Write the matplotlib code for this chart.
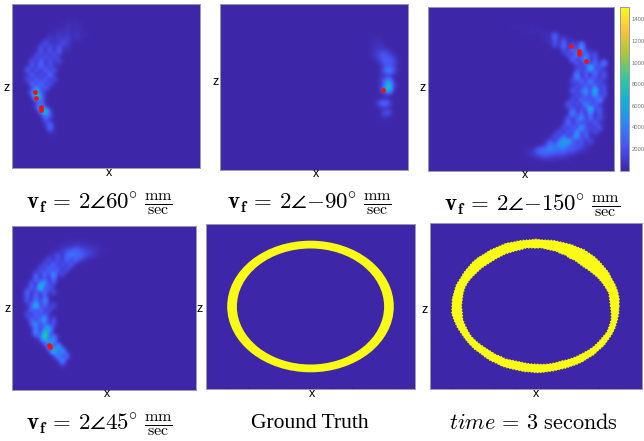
#
# plot.py
#   - Six reconstruction panels (x-z plane) with one shared colorbar.
#

import numpy as np
import matplotlib
matplotlib.use("Agg")
import matplotlib.pyplot as plt
from matplotlib.colors import LinearSegmentedColormap
from matplotlib.patches import Ellipse

HEAT_UNIT = 55
VMAX = 15200
N_COLS, N_ROWS = 42, 36

HEAT_A_FIRST_ROW = 3
HEAT_A_START = [12, 11, 9, 8, 7, 6, 5, 5, 4, 4, 3, 3, 3, 3, 4, 4, 4, 4, 5, 5, 6, 6, 7, 7, 8, 9]
HEAT_A_ROWS = [
    "222", "23232", "2324232", "324342423", "252535243", "27252742", "27372724", "37273823",
    "2737372", "7283727", "27392732", "8272837", "2827292", "7283827", "92937", "3b382",
    "9c72", "2e93", "382", "7b3", "9e5", "397", "72", "392", "82", "3",
]

HEAT_B_FIRST_ROW = 7
HEAT_B_START = [33, 33, 33, 33, 33, 34, 35, 35, 35, 35, 35, 35, 35, 35, 34, 35, 35, 35]
HEAT_B_ROWS = [
    "223", "2332", "23432", "245652", "2467652", "247763", "25752", "27a73", "2342",
    "37a4", "27d62", "39e5", "2452", "121", "27972", "232", "2672", "242",
]

HEAT_C_FIRST_ROW = 4
HEAT_C_START = [18, 21, 25, 26, 27, 29, 30, 31, 32, 33, 33, 32, 32, 32, 32, 32, 31, 31, 31, 31,
                30, 30, 29, 28, 27, 26, 24, 21, 22, 24]
HEAT_C_ROWS = [
    "2222222", "2232322", "2329232", "3272723", "2729272b", "27293b23", "372b2937", "2927b27",
    "3828292b", "372e372", "9282937", "3b272827", "7292b273", "37282937", "828b2e27", "37292b37",
    "2729382b2", "8272b2832", "38272e382", "2b3829272", "3727b29273", "2928272832", "27382c37282",
    "37283b38272", "272927b3822", "3729bb827272", "23698a9867642", "2347989878675432",
    "345676565432", "23333222",
]

HEAT_D_FIRST_ROW = 3
HEAT_D_START = [11, 10, 9, 8, 7, 6, 5, 4, 4, 3, 3, 3, 2, 2, 3, 3, 3, 3, 4, 4, 4, 5, 6, 7, 8, 9, 10, 11]
HEAT_D_ROWS = [
    "2222322", "23335443332", "2346787654322", "347289786543", "3727382853", "37292738",
    "272938272", "27392b37", "2927392", "2729b27", "382f282", "9272927", "3729282", "27392b3",
    "27e2827", "382927", "729382", "2829b27", "7b2927", "2939c3", "3b3e82", "37f3b3", "37b92",
    "3a2d3", "3e2c3", "3b29", "3b3", "52",
]

# Red peak cells (col, row) for each heat panel.
PEAKS_A_COL = [5.2, 5.3, 6.4, 6.4]
PEAKS_A_ROW = [19.4, 20.7, 22.5, 23.2]
PEAKS_B_COL = [36.5]
PEAKS_B_ROW = [18.6]
PEAKS_C_COL = [32.3, 34.0, 34.0, 35.8]
PEAKS_C_ROW = [8.7, 9.8, 10.4, 12.0]
PEAKS_D_COL = [8.5, 8.6]
PEAKS_D_ROW = [26.1, 26.6]

# Ground truth ring: semi axes of outer and inner edge.
TRUTH_OUTER = (83.3, 65.8)
TRUTH_INNER = (73.6, 58.0)

# Measured ring, radius per 5 degrees starting at the right, going counter-clockwise.
RING_ANGLES = list(range(0, 360, 5))
RING_OUTER = [83, 83.5, 83, 82, 80.5, 80, 78.5, 77.5, 76.5, 75, 74, 72, 71, 69.5, 68.5, 68,
              67, 66.5, 67, 66.5, 67, 67.5, 68, 69.5, 70, 71, 72.5, 73.5, 75.5, 77, 78, 79.5,
              80.5, 82.5, 83, 84, 84, 84.5, 83, 81.5, 79.5, 78, 76.5, 75, 73, 72, 71, 69.5,
              69, 68, 67, 66.5, 66.5, 66, 66.5, 66.5, 66.5, 67, 67.5, 68.5, 69.5, 71, 72.5, 73.5,
              75.5, 76.5, 78.5, 79.5, 81, 82, 82.5, 83]
RING_INNER = [74.5, 74, 74, 72, 70, 68, 65.5, 63.5, 61.5, 60.5, 60, 58.5, 59, 58, 58.5, 58,
              58, 58.5, 58, 58.5, 59, 58.5, 59, 59.5, 60.5, 61, 62, 63, 64.5, 66.5, 68, 70,
              72, 73.5, 74, 74, 74.5, 74, 74.5, 73.5, 72.5, 71.5, 69.5, 67.5, 65.5, 64, 63, 61.5,
              61, 59.5, 58.5, 58, 58, 58, 58, 58.5, 59, 59.5, 60, 60.5, 62, 63.5, 65, 66.5,
              68.5, 70.5, 72, 73.5, 75.5, 76, 76.5, 75.5]

# Colorbar
CBAR_TICKS = [2000, 4000, 6000, 8000, 10000, 12000, 14000]
PARULA = [(0.2422, 0.1504, 0.6603), (0.2810, 0.3228, 0.9579), (0.1786, 0.5289, 0.9682),
          (0.0689, 0.6948, 0.8394), (0.2161, 0.7843, 0.5923), (0.6720, 0.7793, 0.2227),
          (0.9970, 0.7659, 0.2199), (0.9769, 0.9839, 0.0805)]

# Text
TITLES = [
    r"$\mathbf{v_f}\,=\,2\angle 60\!^\circ\,\frac{\mathrm{mm}}{\mathrm{sec}}$",
    r"$\mathbf{v_f}\,=\,2\angle{-}90\!^\circ\,\frac{\mathrm{mm}}{\mathrm{sec}}$",
    r"$\mathbf{v_f}\,=\,2\angle{-}150\!^\circ\,\frac{\mathrm{mm}}{\mathrm{sec}}$",
    r"$\mathbf{v_f}\,=\,2\angle 45\!^\circ\,\frac{\mathrm{mm}}{\mathrm{sec}}$",
    "Ground Truth",
    r"$time\,=\,3\ \mathrm{seconds}$",
]
TITLE_SIZES = [16.5, 16.5, 16.5, 16.5, 15.5, 16]

# Layout in image pixels.
W, H = 644, 441
BOXES = [(12, 4, 199.5, 168), (219.7, 4, 408, 170), (427.7, 6.5, 614, 170.7),
         (12, 226, 196, 390), (205.7, 224, 415.3, 389), (430.3, 223.3, 641.7, 389)]
CBAR_BOX = (620, 6.5, 629.3, 170.7)
X_LABEL_POS = [(109, 173), (316, 174), (525, 175), (107, 394), (312, 394), (536, 394)]
Z_LABEL_POS = [(7, 88), (216, 82), (423, 88), (8, 309), (200, 309), (425, 310)]
TITLE_POS = [(99, 204), (309, 204), (532, 206), (99, 425), (310, 424), (533, 424)]


def px_axes(fig, box):
    x0, y0, x1, y1 = box
    return fig.add_axes([x0 / W, 1 - y1 / H, (x1 - x0) / W, (y1 - y0) / H])


def heat_grid(first_row, starts, rows):
    """
    Expand the hex rows into a full grid of values.
    """
    grid = np.zeros((N_ROWS, N_COLS))
    for i, (start, row) in enumerate(zip(starts, rows)):
        for j, ch in enumerate(row):
            grid[first_row + i, start + j] = int(ch, 16) ** 2 * HEAT_UNIT
    return grid


def style_axes(ax, x0, x1, y0, y1):
    ax.set_xticks(np.linspace(x0, x1, 11)[1:-1])
    ax.set_yticks(np.linspace(y0, y1, 11)[1:-1])
    ax.tick_params(direction="in", length=1.5, width=0.4, color="#2c2080",
                   labelbottom=False, labelleft=False)
    for s in ax.spines.values():
        s.set_color("#9a9aa8")
        s.set_linewidth(0.7)


def main():
    plt.rcParams["font.family"] = ["Liberation Serif", "DejaVu Serif"]
    plt.rcParams["mathtext.fontset"] = "cm"
    cmap = LinearSegmentedColormap.from_list("parula_like", PARULA)
    navy, yellow = PARULA[0], PARULA[-1]

    fig = plt.figure(figsize=(W / 100, H / 100), dpi=100)

    panels = [
        (HEAT_A_FIRST_ROW, HEAT_A_START, HEAT_A_ROWS, PEAKS_A_COL, PEAKS_A_ROW),
        (HEAT_B_FIRST_ROW, HEAT_B_START, HEAT_B_ROWS, PEAKS_B_COL, PEAKS_B_ROW),
        (HEAT_C_FIRST_ROW, HEAT_C_START, HEAT_C_ROWS, PEAKS_C_COL, PEAKS_C_ROW),
        (HEAT_D_FIRST_ROW, HEAT_D_START, HEAT_D_ROWS, PEAKS_D_COL, PEAKS_D_ROW),
    ]
    heat_im = None
    for i, (first, starts, rows, pk_col, pk_row) in enumerate(panels):
        ax = px_axes(fig, BOXES[i])
        heat_im = ax.imshow(heat_grid(first, starts, rows), cmap=cmap, vmin=0, vmax=VMAX,
                            extent=(0, N_COLS, N_ROWS, 0), aspect="auto", interpolation="bicubic")
        ax.scatter(pk_col, pk_row, s=12, c="#f01010", linewidths=0, zorder=3)
        style_axes(ax, 0, N_COLS, 0, N_ROWS)
        ax.tick_params(length=0)

    # Ground truth
    ax = px_axes(fig, BOXES[4])
    half_w, half_h = (BOXES[4][2] - BOXES[4][0]) / 2, (BOXES[4][3] - BOXES[4][1]) / 2
    ax.set_facecolor(navy)
    ax.add_patch(Ellipse((0, 0), 2 * TRUTH_OUTER[0], 2 * TRUTH_OUTER[1], fc=yellow, ec="none"))
    ax.add_patch(Ellipse((0, 0), 2 * TRUTH_INNER[0], 2 * TRUTH_INNER[1], fc=navy, ec="none"))
    ax.set_xlim(-half_w, half_w)
    ax.set_ylim(-half_h, half_h)
    style_axes(ax, -half_w, half_w, -half_h, half_h)

    # Measured ring, the dotted edge gives it the rough outline.
    ax = px_axes(fig, BOXES[5])
    half_w, half_h = (BOXES[5][2] - BOXES[5][0]) / 2, (BOXES[5][3] - BOXES[5][1]) / 2
    ax.set_facecolor(navy)
    theta = np.deg2rad(RING_ANGLES + [360])
    r_out = np.array(RING_OUTER + RING_OUTER[:1])
    r_in = np.array(RING_INNER + RING_INNER[:1])
    ax.fill(np.r_[r_out * np.cos(theta), (r_in * np.cos(theta))[::-1]],
            np.r_[r_out * np.sin(theta), (r_in * np.sin(theta))[::-1]],
            fc=yellow, ec=yellow, lw=0.9, ls=(0, (1, 1.5)))
    ax.set_xlim(-half_w, half_w)
    ax.set_ylim(-half_h, half_h)
    style_axes(ax, -half_w, half_w, -half_h, half_h)

    # Colorbar, labels run off the right side of the image.
    cax = px_axes(fig, CBAR_BOX)
    cb = fig.colorbar(heat_im, cax=cax)
    cb.set_ticks(CBAR_TICKS)
    cax.tick_params(length=0, labelsize=4.2, labelcolor="#777777", pad=1.5)
    for lab in cax.get_yticklabels():
        lab.set_family("Liberation Sans")
    cb.outline.set_edgecolor("#9a9aa8")
    cb.outline.set_linewidth(0.7)

    for (x, y) in X_LABEL_POS:
        fig.text(x / W, 1 - y / H, "x", family="Liberation Sans", fontsize=9, ha="center", va="center")
    for (x, y) in Z_LABEL_POS:
        fig.text(x / W, 1 - y / H, "z", family="Liberation Sans", fontsize=9, ha="center", va="center")
    for title, size, (x, y) in zip(TITLES, TITLE_SIZES, TITLE_POS):
        fig.text(x / W, 1 - y / H, title, fontsize=size, ha="center", va="center")

    fig.savefig("out.png", dpi=100)


if __name__ == "__main__":
    main()
